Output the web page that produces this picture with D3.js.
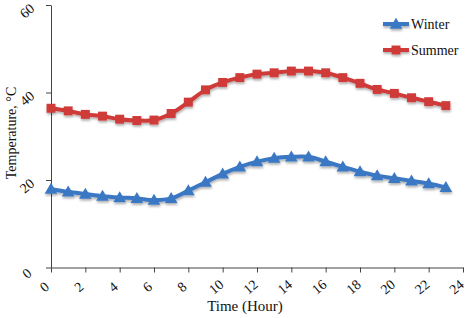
<!DOCTYPE html>
<html>
<head>
<meta charset="utf-8">
<script src="https://cdn.jsdelivr.net/npm/d3@7"></script>
<style>
  body { margin: 0; background: #fff; }
  text { font-family: "Liberation Serif", "Times New Roman", serif; }
</style>
</head>
<body>
<script>
(()=>{
    const width = 466;
    const height = 318;

    const hours = d3.range(0, 24);
    const winter = [17.9, 17.3, 16.8, 16.3, 16.0, 15.8, 15.4, 15.8, 17.6, 19.5, 21.4, 23.0,
                    24.2, 25.0, 25.3, 25.3, 24.2, 23.0, 21.9, 21.0, 20.4, 19.8, 19.2, 18.3];
    const summer = [36.4, 35.8, 35.0, 34.6, 33.9, 33.6, 33.7, 35.2, 37.8, 40.6, 42.3, 43.4,
                    44.2, 44.5, 44.9, 44.9, 44.5, 43.4, 42.1, 40.7, 39.8, 38.8, 37.9, 37.0];
    const xTicks = d3.range(0, 25, 2);
    const yTicks = [0, 20, 40, 60];

    const seriesList = [
        {name: "Winter", values: winter, color: "#3b78c4", shape: d3.symbolTriangle},
        {name: "Summer", values: summer, color: "#cf3a37", shape: d3.symbolSquare}
    ];

    const svg = d3.create("svg")
        .attr("width", width)
        .attr("height", height)
        .attr("viewBox", [0, 0, width, height]);

    // soft drop shadow like the original
    const defs = svg.append("defs");
    const f = defs.append("filter").attr("id", "shadow")
        .attr("x", "-20%").attr("y", "-20%").attr("width", "140%").attr("height", "160%");
    f.append("feDropShadow").attr("dx", 0.5).attr("dy", 2).attr("stdDeviation", 1)
        .attr("flood-color", "#000").attr("flood-opacity", 0.3);

    const x = d3.scaleLinear().domain([0, 24]).range([51, 463]);
    const y = d3.scaleLinear().domain([0, 60]).range([267.5, 5]);

    // x axis
    const xAxis = svg.append("g")
        .attr("transform", `translate(0,${y(0)})`)
        .call(d3.axisBottom(x).tickValues(xTicks).tickSize(5).tickSizeOuter(0).tickPadding(0));
    xAxis.select(".domain").attr("stroke", "#444");
    xAxis.selectAll(".tick line").attr("stroke", "#444");
    xAxis.selectAll(".tick text")
        .attr("font-size", 14)
        .attr("fill", "#111")
        .attr("text-anchor", "middle")
        .attr("dy", null)
        .attr("y", null)
        .attr("transform", "translate(-4,23) rotate(-40)");

    // y axis
    const yAxis = svg.append("g")
        .attr("transform", `translate(${x(0)},0)`)
        .call(d3.axisLeft(y).tickValues(yTicks).tickSize(5).tickSizeOuter(0));
    yAxis.select(".domain").attr("stroke", "#444");
    yAxis.selectAll(".tick line").attr("stroke", "#444");
    yAxis.selectAll(".tick text")
        .attr("font-size", 14)
        .attr("fill", "#111")
        .attr("text-anchor", "middle")
        .attr("x", null)
        .attr("dy", null)
        .attr("transform", "translate(-21,9) rotate(-40)");

    // axis titles
    svg.append("text")
        .attr("x", 245).attr("y", 311)
        .attr("text-anchor", "middle")
        .attr("font-size", 15)
        .attr("fill", "#111")
        .text("Time (Hour)");

    svg.append("text")
        .attr("transform", "translate(16,133) rotate(-90)")
        .attr("text-anchor", "middle")
        .attr("font-size", 14)
        .attr("fill", "#111")
        .text("Temperature, °C");

    const line = d3.line()
        .x((d, i) => x(hours[i]))
        .y(d => y(d))
        .curve(d3.curveCatmullRom.alpha(0.5));

    seriesList.forEach(s => {
        const g = svg.append("g").attr("filter", "url(#shadow)");
        g.append("path")
            .attr("d", line(s.values))
            .attr("fill", "none")
            .attr("stroke", s.color)
            .attr("stroke-width", 4);
        g.selectAll("path.mk")
            .data(s.values)
            .join("path")
            .attr("class", "mk")
            .attr("d", d3.symbol().type(s.shape).size(s.shape === d3.symbolSquare ? 80 : 70))
            .attr("transform", (d, i) => `translate(${x(hours[i])},${y(d) + (s.shape === d3.symbolTriangle ? 1 : 0)})`)
            .attr("fill", s.color);
    });

    // legend
    const legend = svg.append("g");
    seriesList.forEach((s, i) => {
        const ly = 24 + i * 26;
        const lg = legend.append("g").attr("filter", "url(#shadow)");
        lg.append("line")
            .attr("x1", 383).attr("x2", 409)
            .attr("y1", ly).attr("y2", ly)
            .attr("stroke", s.color).attr("stroke-width", 4);
        lg.append("path")
            .attr("d", d3.symbol().type(s.shape).size(s.shape === d3.symbolSquare ? 80 : 70))
            .attr("transform", `translate(396,${ly + (s.shape === d3.symbolTriangle ? 1 : 0)})`)
            .attr("fill", s.color);
        legend.append("text")
            .attr("x", 411).attr("y", ly + 5)
            .attr("font-size", 14)
            .attr("fill", "#111")
            .text(s.name);
    });

    d3.select("body").append(() => svg.node());
})()
</script>
</body>
</html>
